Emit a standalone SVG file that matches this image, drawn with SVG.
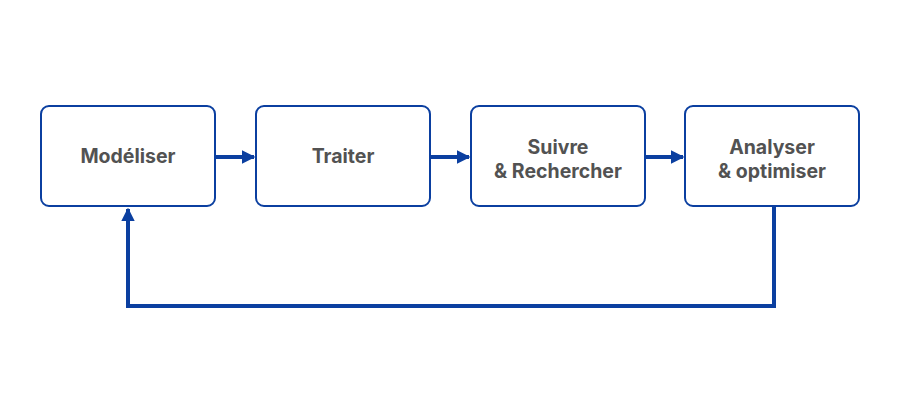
<svg xmlns="http://www.w3.org/2000/svg" width="900" height="400" viewBox="0 0 900 400">
<defs>
<style>
.box{fill:#fff;stroke:#0b3fa0;stroke-width:2}
.lbl{font-family:Inter,"Noto Sans",sans-serif;font-weight:700;font-size:19.5px;fill:#525252;text-anchor:middle}
.conn{fill:none;stroke:#0b3fa0;stroke-width:4}
</style>
<marker id="ah" viewBox="0 0 10 10" refX="9" refY="5" markerWidth="3.4" markerHeight="3.8" orient="auto" markerUnits="strokeWidth">
<path d="M0,0 L10,5 L0,10 Z" fill="#0b3fa0"/>
</marker>
</defs>
<rect width="900" height="400" fill="#fff"/>
<g id="connectors">
<line class="conn" x1="216" y1="157" x2="254" y2="157" marker-end="url(#ah)"/>
<line class="conn" x1="431" y1="157" x2="469" y2="157" marker-end="url(#ah)"/>
<line class="conn" x1="645" y1="157" x2="683" y2="157" marker-end="url(#ah)"/>
<polyline class="conn" points="774,207 774,306 128,306 128,209" marker-end="url(#ah)"/>
</g>
<g id="modeliser">
<rect class="box" x="41" y="106" width="174" height="100" rx="8"/>
<text class="lbl" x="128" y="163">Modéliser</text>
</g>
<g id="traiter">
<rect class="box" x="256" y="106" width="174" height="100" rx="8"/>
<text class="lbl" x="343" y="163">Traiter</text>
</g>
<g id="suivre">
<rect class="box" x="471" y="106" width="174" height="100" rx="8"/>
<text class="lbl" x="558" y="154">Suivre</text>
<text class="lbl" x="558" y="178">&amp; Rechercher</text>
</g>
<g id="analyser">
<rect class="box" x="685" y="106" width="174" height="100" rx="8"/>
<text class="lbl" x="772" y="154">Analyser</text>
<text class="lbl" x="772" y="178">&amp; optimiser</text>
</g>
</svg>
